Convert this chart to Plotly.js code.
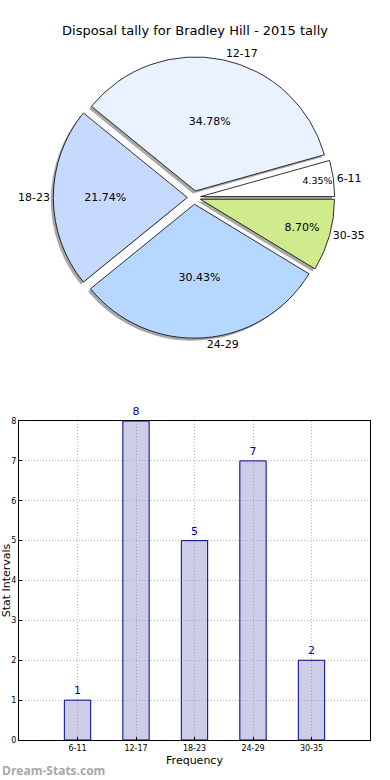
<!DOCTYPE html>
<html>
<head>
<meta charset="utf-8">
<script src="https://cdn.plot.ly/plotly-3.0.1.min.js"></script>
<style>html,body{margin:0;padding:0;background:#fff}#chart{width:390px;height:780px}</style>
</head>
<body>
<div id="chart"></div>
<script>
var categories = ["6-11", "12-17", "18-23", "24-29", "30-35"];
var counts = [1, 8, 5, 7, 2];
var sliceColors = ["#ffffff", "#eaf1ff", "#c6d9ff", "#b6d7ff", "#d0eb8b"];
var yTicks = [0, 1, 2, 3, 4, 5, 6, 7, 8];
var titleText = "Disposal tally for Bradley Hill - 2015 tally";

var W = 390, H = 780;
function px(x) { return x / W; }
function py(y) { return 1 - y / H; }

var font = "DejaVu Sans, sans-serif";
var pulls = categories.map(function () { return 0.05; });
var total = counts.reduce(function (a, b) { return a + b; }, 0);
// first slice begins at 3 o'clock and slices run counterclockwise
var rot = 90 - 360 * counts[0] / total;

// pie geometry (pixels)
var cx = 194, cy = 197.5, half = 140.7, sh = 2.5;
var pieDomain = { x: [px(cx - half), px(cx + half)], y: [py(cy + half), py(cy - half)] };
var shadowDomain = { x: [px(cx - half - sh), px(cx + half - sh)], y: [py(cy + half + sh), py(cy - half + sh)] };

var common = {
  type: "pie", labels: categories, values: counts, sort: false,
  direction: "counterclockwise", rotation: rot, pull: pulls,
  hoverinfo: "skip", showlegend: false
};

var shadow = Object.assign({}, common, {
  domain: shadowDomain,
  marker: { colors: categories.map(function () { return "rgba(110,110,110,0.6)"; }), line: { width: 0 } },
  textinfo: "none"
});

var mainPie = Object.assign({}, common, {
  domain: pieDomain,
  marker: { colors: sliceColors, line: { color: "#000", width: 0.8 } },
  texttemplate: "%{percent:.2%}", textposition: "inside",
  insidetextorientation: "horizontal",
  insidetextfont: { family: font, size: 11, color: "#000" }
});

var labelPie = Object.assign({}, common, {
  domain: pieDomain,
  marker: { colors: categories.map(function () { return "rgba(0,0,0,0)"; }), line: { width: 0 } },
  texttemplate: "%{label}", textposition: "outside",
  outsidetextfont: { family: font, size: 11, color: "#000" }
});

var bars = {
  type: "bar", x: categories, y: counts, xaxis: "x", yaxis: "y",
  width: 0.45,
  marker: { color: "rgba(150,150,205,0.48)", line: { color: "#00008b", width: 1 } },
  text: counts.map(String), textposition: "outside",
  textfont: { family: font, size: 11, color: "#0000aa" },
  cliponaxis: false, hoverinfo: "skip", showlegend: false
};

var layout = {
  width: W, height: H,
  margin: { l: 0, r: 0, t: 0, b: 0 },
  paper_bgcolor: "#fff", plot_bgcolor: "#fff",
  font: { family: font, color: "#000" },
  title: { text: titleText, font: { family: font, size: 13, color: "#000" }, x: 0.5, xanchor: "center", y: py(30), yanchor: "middle" },
  xaxis: {
    domain: [px(19), px(370)], anchor: "y",
    range: [-1, 5], type: "category",
    tickvals: categories, ticktext: categories,
    tickfont: { family: font, size: 8, color: "#000" },
    showgrid: true, gridcolor: "#b8b8b8", griddash: "1px,2px", gridwidth: 1,
    showline: true, linecolor: "#000", linewidth: 1, mirror: true,
    ticks: "inside", ticklen: 3, tickcolor: "#000",
    zeroline: false, fixedrange: true,
    title: { text: "Frequency", font: { family: font, size: 11, color: "#000" }, standoff: 4 }
  },
  yaxis: {
    domain: [py(740), py(421)], anchor: "x",
    range: [0, 8], tickvals: yTicks,
    tickfont: { family: font, size: 8, color: "#000" },
    showgrid: true, gridcolor: "#b8b8b8", griddash: "1px,2px", gridwidth: 1,
    showline: true, linecolor: "#000", linewidth: 1, mirror: true,
    ticks: "inside", ticklen: 3, tickcolor: "#000",
    zeroline: false, fixedrange: true,
    title: { text: "Stat Intervals", font: { family: font, size: 11, color: "#000" }, standoff: 2 }
  },
  annotations: [{
    text: "<b>Dream-Stats.com</b>", xref: "paper", yref: "paper",
    x: 0, y: py(770), xanchor: "left", yanchor: "middle", showarrow: false,
    font: { family: "Open Sans, sans-serif", size: 12, color: "#a8a8a8" }
  }]
};

Plotly.newPlot("chart", [shadow, mainPie, labelPie, bars], layout, { staticPlot: true, displayModeBar: false });
</script>
</body>
</html>
